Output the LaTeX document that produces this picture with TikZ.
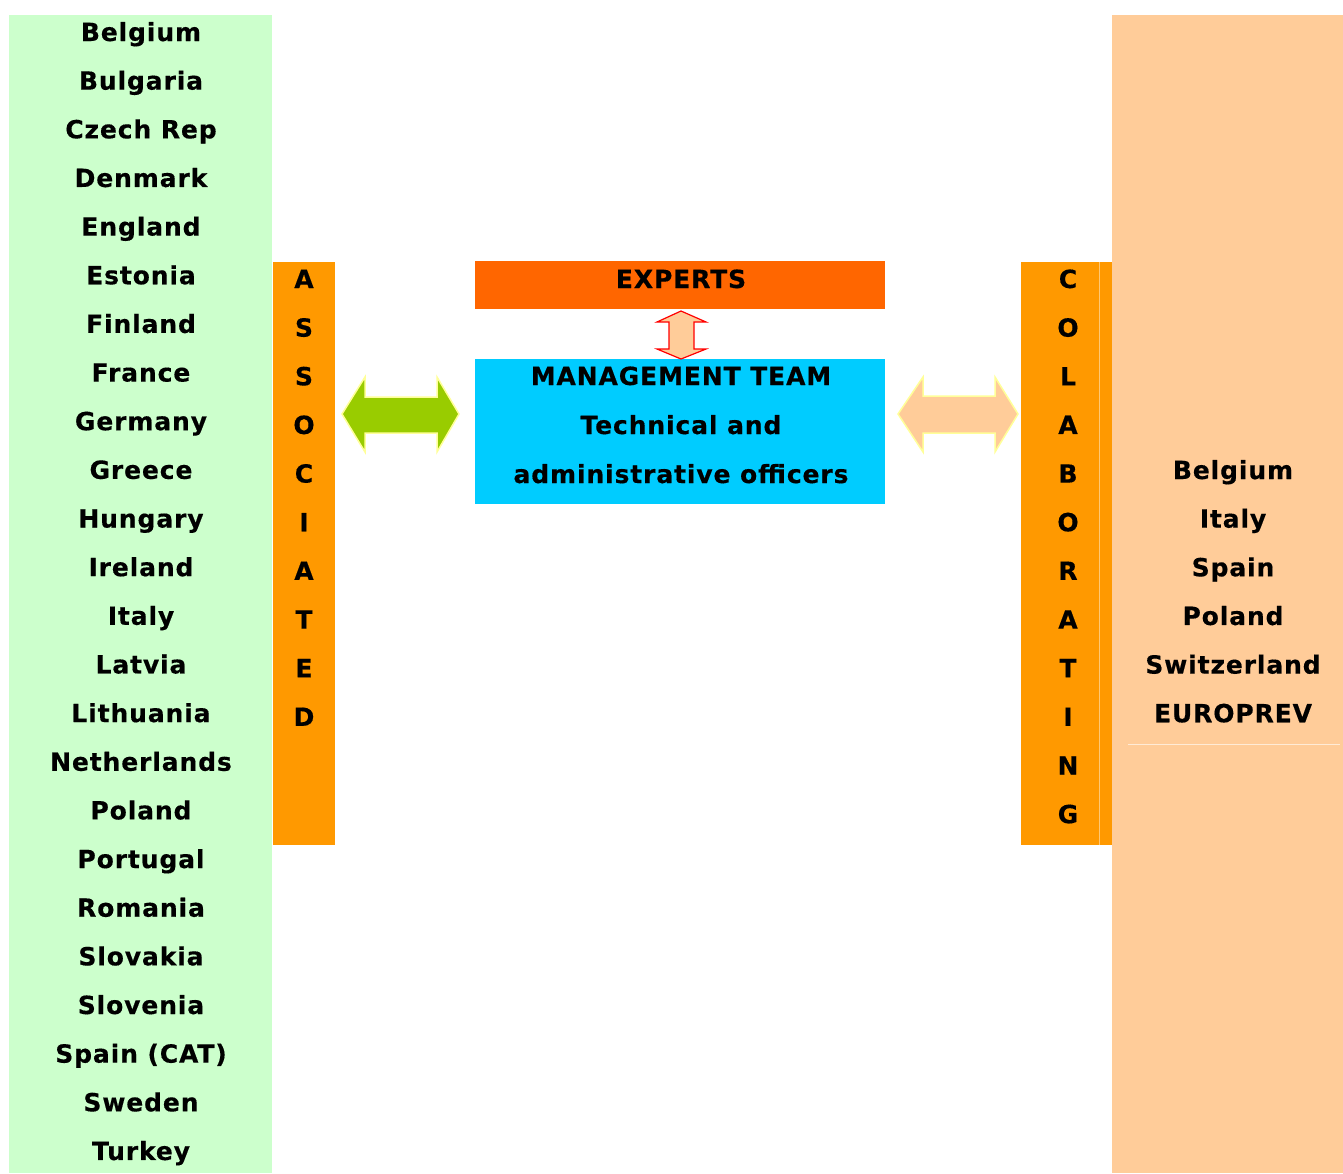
\documentclass[tikz,border=0pt]{standalone}
\usepackage{fontspec}
\setmainfont{DejaVu Sans}[BoldFeatures={LetterSpace=3.5,FakeBold=0.4}]
\definecolor{mint}{HTML}{CCFFCC}
\definecolor{peach}{HTML}{FFCC99}
\definecolor{amber}{HTML}{FF9900}
\definecolor{tang}{HTML}{FF6600}
\definecolor{sky}{HTML}{00CCFF}
\definecolor{lime}{HTML}{99CC00}
\definecolor{paleyel}{HTML}{FFFF99}
\begin{document}
\begin{tikzpicture}[x=1pt,y=-1pt,
  lbl/.style={font=\bfseries\fontsize{25}{30}\selectfont, anchor=base, inner sep=0pt},
  panel/.style={draw=none, inner sep=0pt}]
\useasboundingbox[fill=white] (0,0) rectangle (1343,1173);
% columns
\fill[mint] (9,15) rectangle (272,1173);
\fill[peach] (1112,15) rectangle (1343,1173);
\draw[white!60!peach, line width=1pt] (1128,744) -- (1340,744);
% side bars
\fill[amber] (273,262) rectangle (335,845);
\fill[amber] (1021,262) rectangle (1112,845);
\draw[white!45!amber, line width=0.8pt] (1099,262) -- (1099,845);
% central boxes
\node[panel, fill=tang, minimum width=410pt, minimum height=48pt, anchor=north west] (experts) at (475,261) {};
\node[lbl] (expertsT) at (681,288) {EXPERTS};
\node[panel, fill=sky, minimum width=410pt, minimum height=145pt, anchor=north west] (mgmt) at (475,359) {};
\node[lbl] (m1) at (681,385) {MANAGEMENT TEAM};
\node[lbl] (m2) at (681,434) {Technical and};
\node[lbl] (m3) at (681,483) {administrative officers};
% arrows
\draw[paleyel, line width=1.5pt, fill=lime] (342,414) -- (365,377) -- (365,397) -- (437,397) -- (437,377) -- (459,414) -- (437,452) -- (437,433) -- (365,433) -- (365,452) -- cycle;
\draw[paleyel, line width=1.5pt, fill=peach] (898,414) -- (923,377) -- (923,396) -- (995,396) -- (995,377) -- (1018,414) -- (995,452) -- (995,433) -- (923,433) -- (923,452) -- cycle;
\draw[red, line width=1.2pt, fill=peach] (681,311) -- (706,322) -- (694,322) -- (694,349) -- (706,349) -- (681,359) -- (657,349) -- (669,349) -- (669,322) -- (657,322) -- cycle;
% left list
\foreach \c [count=\i from 0] in {Belgium,Bulgaria,Czech Rep,Denmark,England,Estonia,Finland,France,Germany,Greece,Hungary,Ireland,Italy,Latvia,Lithuania,Netherlands,Poland,Portugal,Romania,Slovakia,Slovenia,Spain (CAT),Sweden,Turkey}
  \node[lbl] (L\i) at (141,{41+48.65*\i}) {\c};
% associated
\foreach \c [count=\i from 0] in {A,S,S,O,C,I,A,T,E,D}
  \node[lbl] (A\i) at (304,{288+48.65*\i}) {\c};
% colaborating
\foreach \c [count=\i from 0] in {C,O,L,A,B,O,R,A,T,I,N,G}
  \node[lbl] (C\i) at (1068,{288+48.65*\i}) {\c};
% right list
\foreach \c [count=\i from 0] in {Belgium,Italy,Spain,Poland,Switzerland,EUROPREV}
  \node[lbl] (R\i) at (1233,{479+48.65*\i}) {\c};
\end{tikzpicture}
\end{document}
